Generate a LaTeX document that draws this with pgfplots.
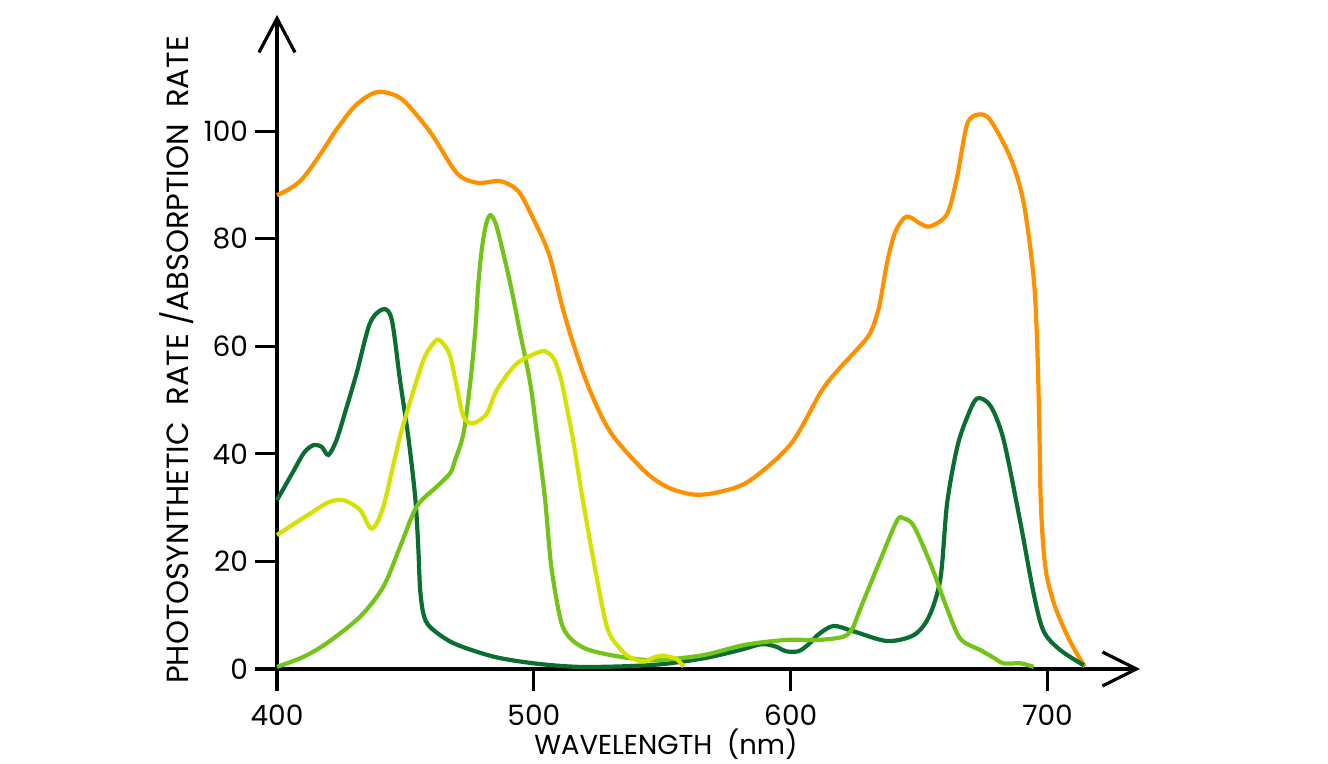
\documentclass[border=0pt]{standalone}
\usepackage{fontspec}
\setmainfont{Poppins}
\usepackage{pgfplots}
\pgfplotsset{compat=1.18}
\usetikzlibrary{arrows.meta}
\definecolor{corange}{RGB}{255,145,0}
\definecolor{cdark}{RGB}{10,110,50}
\definecolor{clime}{RGB}{115,195,25}
\definecolor{cyellow}{RGB}{212,226,0}
\begin{document}
\begin{tikzpicture}
\begin{axis}[
  at={(0,0)}, anchor=south west,
  scale only axis, width=431.5pt, height=327pt,
  xmin=400, xmax=736, ymin=0, ymax=121.6,
  axis lines=left,
  axis line style={line width=1.6pt},
  x axis line style={-{Straight Barb[length=17pt,width=17pt]}},
  y axis line style={-{Straight Barb[length=17pt,width=18pt]}},
  xtick={400,500,600,700}, ytick={0,20,40,60,80,100},
  tick style={line width=1.6pt, black},
  tick align=outside, major tick length=11pt,
  ticklabel style={font=\fontsize{14}{16}\selectfont},
  xticklabel style={yshift=-3.5pt},
  /pgf/number format/assume math mode=true,
  clip=false,
  every axis plot/.append style={line width=2.1pt, smooth, no markers},
]
\addplot[corange] coordinates {
(400,88.1) (405,89.3) (410,91.2) (417,95.8) (423,100.2) (430,104.5) (436,106.7) (441,107.3) (449,105.8) (460,99.6) (470,92.2) (478,90.4) (487,90.7) (494,88.8) (500,83.5) (506,77) (511,67.5) (515,61) (520,54) (526,47.3) (532,42.6) (544,36.4) (553,33.6) (563,32.4) (573,33) (584,35) (600,41.8) (612,51.7) (619,55.9) (626,59.5) (631,62.5) (634.5,67.5) (637.5,75.5) (640.5,81) (644,83.8) (646.5,84) (650.5,82.8) (654.4,82.3) (660.9,84.6) (664.8,91.5) (668.7,101.3) (673.2,103.1) (677.8,102.0) (685.6,95.0) (690.7,86.7) (694.6,72.7) (696.0,60) (696.8,45) (697.3,32) (698.3,23) (699.8,17) (703,11.5) (707.6,6.3) (711,3.2) (714.5,0.4)
};
\addplot[cdark] coordinates {
(400,31.4) (406.3,36.7) (410.5,40.2) (414.1,41.6) (417.4,41.3) (420,39.8) (423.2,42.6) (427,48.5) (431,55) (436.2,64.3) (441.4,66.9) (444.7,64.9) (447.9,53.7) (451.1,43.2) (453.8,32.0) (455,22.7) (455.7,15) (457,10.3) (459.6,7.8) (468.7,4.8) (484.3,2.3) (500,1.05) (516.8,0.4) (535,0.5) (550,0.9) (566.3,2.0) (580,3.5) (588.5,4.6) (594,4.2) (598.2,3.3) (603,3.3) (607,4.6) (611,6.5) (616.7,8.0) (624.5,7.0) (637.5,5.2) (647.9,6.3) (653.8,9.7) (658.3,16.8) (660.9,30.8) (664.8,41.2) (668.7,46.8) (672.6,50.3) (677.8,48.9) (682.9,42.6) (689.4,27.3) (694.6,14.0) (698.5,7.0) (705,3.5) (714.1,0.7)
};
\addplot[clime] coordinates {
(400,0.4) (410,2.2) (419.4,4.8) (432.3,9.7) (441.4,15.3) (447.9,22.7) (454.4,30.2) (462.2,33.9) (467.4,36.4) (469.3,38.8) (472.6,43.8) (475.2,53.1) (477.1,62.4) (478.4,71.7) (479.7,77.9) (481.3,82.5) (483,84.4) (485,83) (486.9,79.7) (490.8,71.7) (494.7,62.4) (498.6,53.1) (501.2,43.8) (504.4,31.4) (506.8,19) (510.5,9) (514,5.8) (520,3.8) (529.7,2.6) (542.7,1.7) (550.4,1.7) (566.3,2.6) (582.3,4.5) (598.2,5.4) (610.8,5.4) (620.5,6.0) (624,7.5) (627.1,11.2) (634.9,20.3) (641.4,27.6) (644,28.0) (647.9,26.6) (654.4,19.6) (660.9,11.2) (666.1,5.6) (673.9,3.5) (679,2.1) (682.9,1.05) (689.4,1.05) (694.6,0.4)
};
\addplot[cyellow] coordinates {
(400,24.9) (406,26.8) (412.9,28.9) (420,31) (425.8,31.4) (432.3,29.6) (436.9,26.1) (441.4,30.2) (447.9,43.2) (454.4,53.7) (458,58.5) (462.2,61.2) (465,60.3) (467.4,58.2) (470,52.5) (472.6,46.9) (476.5,45.7) (481.7,47.5) (485.6,51.9) (493.4,56.8) (502.5,59.0) (505.5,58.8) (508,57.5) (510.5,54) (512.7,49) (515.5,42) (518.5,33) (523.2,20.3) (528.4,7.9) (533,4.1) (537,2.3) (542.7,1.4) (547,2.2) (550.5,2.5) (555.7,1.8) (558.3,0.4)
};
\draw[line width=1.6pt] (axis cs:400,0) -- (axis cs:400,-3.2);
\end{axis}
\node[rotate=90, font=\fontsize{15.3}{17}\selectfont] at (-50pt,154.5pt) {PHOTOSYNTHETIC\ \ RATE /ABSORPTION\ \ RATE};
\node[font=\fontsize{13.7}{16}\selectfont] at (194.5pt,-37.8pt) {WAVELENGTH\ \ (nm)};
\pgfresetboundingbox
\path (-138.5pt,-47.5pt) rectangle (525.5pt,334.5pt);
\end{tikzpicture}
\end{document}
